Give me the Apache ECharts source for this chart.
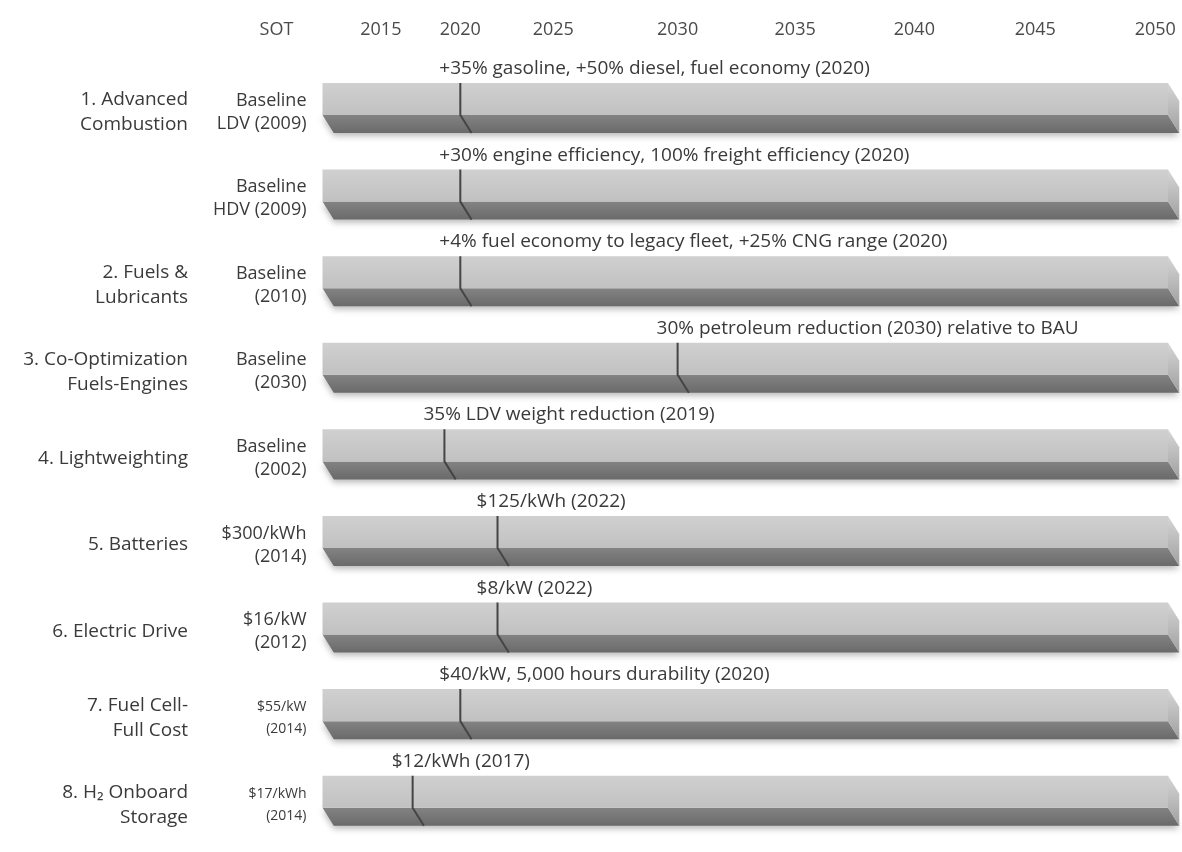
<!DOCTYPE html>
<html>
<head>
<meta charset="utf-8">
<script src="https://cdn.jsdelivr.net/npm/echarts@6/dist/echarts.min.js"></script>
<style>
  html, body { margin: 0; padding: 0; background: #ffffff; }
  #chart { width: 1182px; height: 852px; }
</style>
</head>
<body>
<div id="chart"></div>
<script>
// ---------------- DATA ----------------
const rowGroups = [
  '1. Advanced\nCombustion',
  '',
  '2. Fuels &\nLubricants',
  '3. Co-Optimization\nFuels-Engines',
  '4. Lightweighting',
  '5. Batteries',
  '6. Electric Drive',
  '7. Fuel Cell-\nFull Cost',
  '8. H\u2082 Onboard\nStorage'
];
const baselineLabels = [
  'Baseline\nLDV (2009)',
  'Baseline\nHDV (2009)',
  'Baseline\n(2010)',
  'Baseline\n(2030)',
  'Baseline\n(2002)',
  '$300/kWh\n(2014)',
  '$16/kW\n(2012)',
  '$55/kW\n(2014)',
  '$17/kWh\n(2014)'
];
const smallBaselineRows = [7, 8];
const targetYears = [2020, 2020, 2020, 2030, 2019, 2022, 2022, 2020, 2017];
const targetLabels = [
  '+35% gasoline, +50% diesel, fuel economy (2020)',
  '+30% engine efficiency, 100% freight efficiency (2020)',
  '+4% fuel economy to legacy fleet, +25% CNG range (2020)',
  '30% petroleum reduction (2030) relative to BAU',
  '35% LDV weight reduction (2019)',
  '$125/kWh (2022)',
  '$8/kW (2022)',
  '$40/kW, 5,000 hours durability (2020)',
  '$12/kWh (2017)'
];
const tickLabels = ['2015', '2020', '2025', '2030', '2035', '2040', '2045', '2050'];
const stateOfTechLabel = 'SOT';

// ---------------- AXIS SCALE ----------------
// The source timeline is not linear in years: each labelled year sits at its own
// stop on a 0-100 timeline scale (0 = start of the bars, 100 = end of the bars).
const tickYears = tickLabels.map(Number);
const tickStops = [6.9, 16.3, 27.3, 42.0, 55.9, 70.0, 84.3, 98.5];
const BAR_START = 0, BAR_END = 100;

function yearToStop(y) {
  const n = tickYears.length;
  let i = 0;
  if (y <= tickYears[0]) i = 0;
  else if (y >= tickYears[n - 1]) i = n - 2;
  else { while (!(y >= tickYears[i] && y <= tickYears[i + 1])) i++; }
  const t = (y - tickYears[i]) / (tickYears[i + 1] - tickYears[i]);
  return tickStops[i] + t * (tickStops[i + 1] - tickStops[i]);
}

const seriesData = targetYears.map((y, i) => [yearToStop(y), i, targetLabels[i]]);
const rowIdx = rowGroups.map((_, i) => String(i));

const FONT = '"Open Sans", "Noto Sans", sans-serif';
const TEXT = '#3a3a3a';

const chart = echarts.init(document.getElementById('chart'), null, { renderer: 'canvas' });

function renderItem(params, api) {
  const row = api.value(1);
  const band = api.size([0, 1])[1];
  const c = api.coord([0, row])[1];
  const x0 = api.coord([BAR_START, row])[0];
  const x1 = api.coord([BAR_END, row])[0];
  const xm = api.coord([api.value(0), row])[0];
  const top = c - band * 0.335;
  const mid = c + band * 0.035;
  const bot = c + band * 0.243;
  const dx = band * 0.13;
  const labelY = c - band * 0.50;
  return {
    type: 'group',
    children: [
      { // bottom (dark) face
        type: 'polygon',
        shape: { points: [[x0, mid], [x1, mid], [x1 + dx, bot], [x0 + dx, bot]] },
        style: {
          fill: { type: 'linear', x: 0, y: 0, x2: 0, y2: 1,
                  colorStops: [{ offset: 0, color: '#838383' }, { offset: 1, color: '#6a6a6a' }] },
          shadowBlur: 6, shadowColor: 'rgba(0,0,0,0.28)', shadowOffsetY: 3
        }
      },
      { // right end cap
        type: 'polygon',
        shape: { points: [[x1, top], [x1 + dx, top + (bot - mid)], [x1 + dx, bot], [x1, mid]] },
        style: {
          fill: { type: 'linear', x: 0, y: 0, x2: 0, y2: 1,
                  colorStops: [{ offset: 0, color: '#d6d6d6' }, { offset: 1, color: '#a0a0a0' }] }
        }
      },
      { // front (light) face
        type: 'polygon',
        shape: { points: [[x0, top], [x1, top], [x1, mid], [x0, mid]] },
        style: {
          fill: { type: 'linear', x: 0, y: 0, x2: 0, y2: 1,
                  colorStops: [{ offset: 0, color: '#d0d0d0' }, { offset: 1, color: '#c1c1c1' }] }
        }
      },
      { // target marker
        type: 'polyline',
        shape: { points: [[xm, top], [xm, mid], [xm + dx, bot]] },
        style: { stroke: '#454545', lineWidth: 2, fill: null }
      },
      { // target annotation
        type: 'text',
        style: {
          text: api.value(2),
          x: xm - 21, y: labelY,
          align: 'left', verticalAlign: 'middle',
          font: '19px ' + FONT,
          fill: TEXT
        }
      }
    ]
  };
}

const option = {
  backgroundColor: '#ffffff',
  animation: false,
  grid: { left: 322.5, right: 14, top: 68.7, bottom: 4, containLabel: false },
  xAxis: {
    type: 'value',
    position: 'top',
    min: BAR_START, max: BAR_END,
    axisLine: { show: false },
    axisTick: { show: false },
    splitLine: { show: false },
    axisLabel: {
      customValues: tickStops,
      formatter: function (v) {
        const k = tickStops.findIndex(s => Math.abs(s - v) < 1e-6);
        return k >= 0 ? tickLabels[k] : '';
      },
      margin: 30,
      fontFamily: FONT, fontSize: 18, color: '#4a4a4a'
    }
  },
  yAxis: [
    {
      type: 'category',
      data: rowIdx,
      inverse: true,
      position: 'left',
      axisLine: { show: false }, axisTick: { show: false }, splitLine: { show: false },
      name: stateOfTechLabel,
      nameLocation: 'start',
      nameGap: 30,
      nameTextStyle: { fontFamily: FONT, fontSize: 18, color: '#4a4a4a', align: 'center', padding: [0, 92, 0, 0] },
      axisLabel: {
        margin: 16,
        align: 'right',
        fontFamily: FONT, fontSize: 18, lineHeight: 23, color: TEXT,
        formatter: function (v) {
          const i = Number(v);
          const t = baselineLabels[i];
          if (smallBaselineRows.indexOf(i) >= 0) {
            return t.split('\n').map(s => '{s|' + s + '}').join('\n');
          }
          return t;
        },
        rich: { s: { fontFamily: FONT, fontSize: 14, lineHeight: 22, color: TEXT } }
      }
    },
    {
      type: 'category',
      data: rowIdx,
      inverse: true,
      position: 'left',
      offset: 126.5,
      axisLine: { show: false }, axisTick: { show: false }, splitLine: { show: false },
      axisLabel: {
        margin: 8,
        align: 'right',
        fontFamily: FONT, fontSize: 19, lineHeight: 25, color: TEXT,
        formatter: function (v) { return rowGroups[Number(v)]; }
      }
    }
  ],
  series: [{
    type: 'custom',
    xAxisIndex: 0,
    yAxisIndex: 0,
    renderItem: renderItem,
    encode: { x: 0, y: 1 },
    data: seriesData,
    clip: false
  }]
};

chart.setOption(option);
</script>
</body>
</html>
